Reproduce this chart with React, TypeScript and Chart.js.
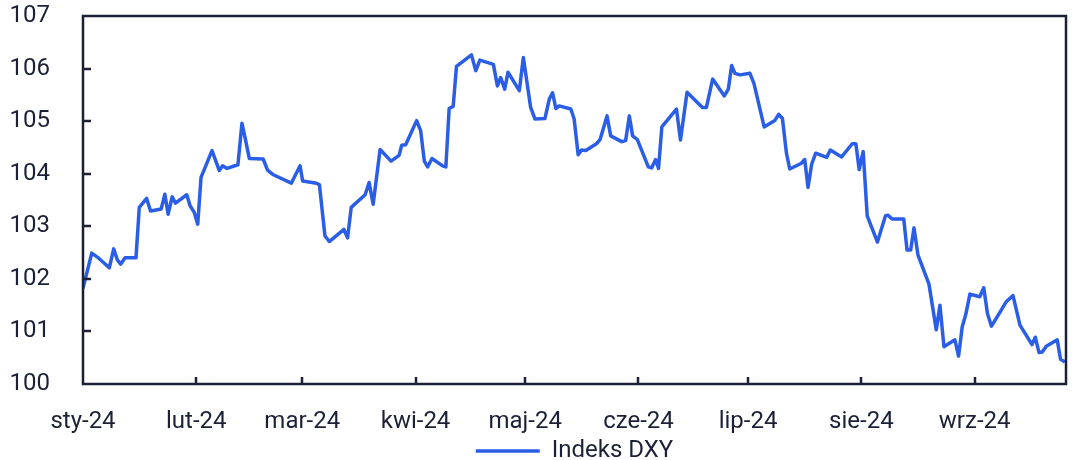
import React, { useEffect, useRef } from "react";
import { Chart, registerables } from "chart.js";

Chart.register(...registerables);

// Month-start positions (days since 1 Jan 2024) and their labels
const monthTickDays = [0, 31, 60, 91, 121, 152, 182, 213, 244];
const monthTickLabels = ["sty-24", "lut-24", "mar-24", "kwi-24", "maj-24", "cze-24", "lip-24", "sie-24", "wrz-24"];
const yTickValues = [100, 101, 102, 103, 104, 105, 106, 107];

// Days since 1 Jan 2024 for each observation
const dayOffsets = [
  0, 2.4, 4.0, 7.2, 8.4, 9.4, 10.3, 11.5, 14.5, 15.4, 17.4, 18.5, 21.4, 22.4, 23.3, 24.4, 25.3,
  28.4, 29.3, 30.4, 31.4, 32.3, 35.3, 37.3, 38.2, 39.4, 42.4, 43.5, 44.3, 45.5, 49.3, 50.5, 52.1,
  57.0, 59.4, 60.1, 63.9, 64.7, 66.2, 67.4, 71.4, 72.4, 73.4, 77.2, 78.3, 79.4, 81.3, 84.3, 86.5,
  87.2, 88.3, 91.3, 92.4, 93.4, 94.3, 95.5, 98.4, 99.3, 100.2, 101.3, 102.2, 106.3, 107.5, 108.6,
  112.3, 113.4, 114.3, 115.4, 116.3, 119.4, 120.5, 122.5, 123.7, 126.4, 127.6, 128.5, 129.4, 130.3,
  133.5, 134.4, 135.5, 136.4, 137.6, 140.5, 141.5, 143.4, 144.4, 147.4, 148.5, 149.5, 150.4, 151.7,
  154.7, 155.6, 156.7, 157.5, 158.4, 162.4, 163.5, 165.3, 169.5, 170.6, 172.3, 175.5, 176.6, 177.5,
  178.4, 179.8, 182.5, 183.6, 186.4, 189.3, 190.4, 191.4, 192.5, 193.4, 196.6, 197.5, 198.4, 199.4,
  200.5, 203.5, 204.5, 207.6, 210.5, 211.5, 212.4, 213.5, 214.6, 217.4, 219.6, 220.3, 221.4, 224.6,
  225.5, 226.5, 227.4, 228.5, 231.5, 233.5, 234.5, 235.6, 238.6, 239.6, 240.6, 241.6, 242.7, 245.4,
  246.5, 247.5, 248.6, 250.7, 252.7, 254.5, 256.4, 259.7, 260.6, 261.6, 262.5, 263.6, 266.6, 267.5,
  268.7,
];

// DXY index values
const dxyValues = [
  101.82, 102.49, 102.41, 102.21, 102.57, 102.36, 102.28, 102.40, 102.40, 103.36, 103.53, 103.29,
  103.33, 103.61, 103.23, 103.56, 103.44, 103.60, 103.39, 103.27, 103.04, 103.93, 104.44, 104.06,
  104.15, 104.10, 104.17, 104.96, 104.70, 104.29, 104.28, 104.07, 103.98, 103.82, 104.15, 103.86,
  103.82, 103.79, 102.82, 102.71, 102.94, 102.78, 103.36, 103.60, 103.83, 103.42, 104.46, 104.24,
  104.35, 104.54, 104.55, 105.01, 104.82, 104.24, 104.13, 104.29, 104.15, 104.13, 105.24, 105.28,
  106.04, 106.26, 105.96, 106.16, 106.08, 105.67, 105.83, 105.61, 105.93, 105.58, 106.21, 105.26,
  105.04, 105.05, 105.42, 105.54, 105.24, 105.29, 105.23, 105.04, 104.36, 104.45, 104.44, 104.57,
  104.65, 105.10, 104.72, 104.61, 104.63, 105.10, 104.72, 104.65, 104.13, 104.11, 104.27, 104.10,
  104.89, 105.23, 104.64, 105.55, 105.26, 105.26, 105.80, 105.48, 105.61, 106.06, 105.91, 105.88,
  105.91, 105.72, 104.89, 105.01, 105.13, 105.05, 104.39, 104.09, 104.20, 104.27, 103.74, 104.18,
  104.39, 104.31, 104.45, 104.32, 104.57, 104.57, 104.08, 104.42, 103.20, 102.70, 103.20, 103.21,
  103.14, 103.14, 102.55, 102.55, 102.97, 102.45, 101.90, 101.03, 101.50, 100.71, 100.84, 100.53,
  101.09, 101.33, 101.71, 101.66, 101.83, 101.34, 101.10, 101.34, 101.57, 101.68, 101.12, 100.75,
  100.89, 100.60, 100.61, 100.72, 100.84, 100.47, 100.42,
];

const seriesLabel = "Indeks DXY";

const LINE_COLOR = "#2a5ee6";
const INK = "#1c2036";
const FONT = "Roboto, 'Liberation Sans', Arial, sans-serif";

const framePlugin = {
  id: "frameTicks",
  afterDraw(chart: any) {
    const { ctx, chartArea: a, scales } = chart;
    ctx.save();
    ctx.strokeStyle = INK;
    ctx.lineWidth = 2.5;
    ctx.strokeRect(a.left, a.top, a.right - a.left, a.bottom - a.top);
    ctx.beginPath();
    yTickValues.slice(1, -1).forEach((v) => {
      const y = Math.round(scales.y.getPixelForValue(v));
      ctx.moveTo(a.left, y);
      ctx.lineTo(a.left + 8, y);
    });
    monthTickDays.slice(1).forEach((d) => {
      const x = Math.round(scales.x.getPixelForValue(d));
      ctx.moveTo(x, a.bottom);
      ctx.lineTo(x, a.bottom - 7);
    });
    ctx.stroke();
    ctx.restore();
  },
};

export default function App() {
  const ref = useRef<HTMLCanvasElement | null>(null);
  useEffect(() => {
    if (!ref.current) return;
    const points = dayOffsets.map((d, i) => ({ x: d, y: dxyValues[i] }));
    const chart = new Chart(ref.current, {
      type: "line",
      data: {
        datasets: [
          {
            label: seriesLabel,
            data: points,
            borderColor: LINE_COLOR,
            backgroundColor: LINE_COLOR,
            borderWidth: 3.5,
            pointRadius: 0,
            tension: 0,
            borderJoinStyle: "round",
          },
        ],
      },
      options: {
        responsive: false,
        animation: false,
        layout: { padding: { top: 16, right: 15, left: 0, bottom: -13 } },
        scales: {
          x: {
            type: "linear",
            min: 0,
            max: 269,
            afterBuildTicks: (scale: any) => {
              scale.ticks = monthTickDays.map((v) => ({ value: v }));
            },
            afterFit: (scale: any) => {
              scale.height = 51;
              scale.paddingLeft = 0;
              scale.paddingRight = 0;
            },
            grid: { display: false },
            border: { display: false },
            ticks: {
              autoSkip: false,
              maxRotation: 0,
              padding: 16,
              color: INK,
              font: { family: FONT, size: 24 },
              callback: (v: any) => {
                const i = monthTickDays.indexOf(Number(v));
                return i >= 0 ? monthTickLabels[i] : "";
              },
            },
          },
          y: {
            min: 100,
            max: 107,
            afterBuildTicks: (scale: any) => {
              scale.ticks = yTickValues.map((v) => ({ value: v }));
            },
            afterFit: (scale: any) => {
              scale.width = 83;
              scale.paddingTop = 0;
              scale.paddingBottom = 0;
            },
            grid: { display: false },
            border: { display: false },
            ticks: {
              padding: 25,
              color: INK,
              font: { family: FONT, size: 24 },
            },
          },
        },
        plugins: {
          legend: {
            position: "bottom",
            fullSize: false,
            labels: {
              usePointStyle: true,
              pointStyle: "line",
              pointStyleWidth: 64,
              padding: 4,
              color: INK,
              font: { family: FONT, size: 24 },
            },
          },
          tooltip: { enabled: false },
        },
      },
      plugins: [framePlugin],
    });
    return () => chart.destroy();
  }, []);
  return (
    <div style={{ position: "fixed", left: 0, top: 0, width: 1081, height: 460, background: "#fff" }}>
      <canvas ref={ref} width={1081} height={460} style={{ width: 1081, height: 460, display: "block" }} />
    </div>
  );
}
